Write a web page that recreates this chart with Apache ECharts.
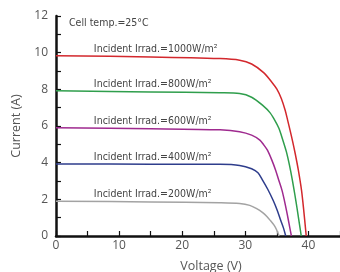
<!DOCTYPE html>
<html>
<head>
<meta charset="utf-8">
<script src="https://cdn.jsdelivr.net/npm/echarts@6/dist/echarts.min.js"></script>
<style>
  html, body { margin: 0; padding: 0; background: #fff; }
  #main { width: 340px; height: 272px; }
</style>
</head>
<body>
<div id="main"></div>
<script>
// I-V curves at different irradiance
const irradiance = ['1000', '800', '600', '400', '200']
const colors = ['#d3282d', '#2f9e4c', '#9f2a8f', '#2e3d8c', '#a3a3a3']

const volt1000 = [0, 15, 26, 29.1, 31.0, 32.9, 34.2, 35.0, 35.7, 36.3, 36.7, 37.1, 37.5, 37.9, 38.4, 38.9, 39.25, 39.65]
const curr1000 = [9.83, 9.77, 9.68, 9.59, 9.38, 8.91, 8.39, 8.01, 7.5, 6.87, 6.32, 5.75, 5.15, 4.5, 3.59, 2.5, 1.41, 0]

const volt800 = [0, 15, 26, 29.1, 31.0, 32.8, 33.9, 34.65, 35.3, 35.9, 36.5, 37.0, 37.45, 37.85, 38.2, 38.55, 38.86]
const curr800 = [7.92, 7.86, 7.81, 7.77, 7.57, 7.11, 6.73, 6.32, 5.89, 5.28, 4.6, 3.85, 3.05, 2.25, 1.5, 0.7, 0]

const volt600 = [0, 15, 26, 29.1, 31.0, 32.3, 32.9, 33.5, 34.2, 34.8, 35.3, 35.8, 36.2, 36.5, 36.8, 37.05, 37.3]
const curr600 = [5.9, 5.85, 5.79, 5.69, 5.5, 5.23, 4.98, 4.68, 4.14, 3.59, 3.04, 2.5, 1.92, 1.43, 0.9, 0.44, 0]

const volt400 = [0, 15, 26, 29.1, 31.0, 32.0, 32.75, 33.55, 34.4, 35.05, 35.6, 36.05, 36.4]
const curr400 = [3.93, 3.92, 3.91, 3.85, 3.67, 3.45, 3.04, 2.55, 1.95, 1.41, 0.86, 0.43, 0]

const volt200 = [0, 15, 26, 29.1, 30.7, 31.8, 32.75, 33.45, 34.0, 34.55, 34.95, 35.35]
const curr200 = [1.9, 1.86, 1.81, 1.77, 1.67, 1.49, 1.27, 1.05, 0.83, 0.59, 0.34, 0]

const volts = [volt1000, volt800, volt600, volt400, volt200]
const currs = [curr1000, curr800, curr600, curr400, curr200]

const narrow = '"Liberation Sans Narrow", "DejaVu Sans Condensed", sans-serif'
const numFont = '"Open Sans", "Noto Sans", sans-serif'

let chart = echarts.init(document.getElementById('main'), null, { renderer: 'canvas' })

let series = irradiance.map((irr, i) => ({
  name: irr,
  type: 'line',
  smooth: 0.3,
  showSymbol: false,
  symbol: 'none',
  lineStyle: { color: colors[i], width: 1.5 },
  data: volts[i].map((v, k) => [v, currs[i][k]]),
  markPoint: {
    symbol: 'circle',
    symbolSize: 0,
    silent: true,
    label: {
      show: true,
      position: [0, 0],
      align: 'left',
      verticalAlign: 'middle',
      color: '#444',
      fontSize: 10.5,
      fontFamily: narrow,
      formatter: 'Incident Irrad.=' + irr + 'W/m²'
    },
    // label sits a little above the short-circuit current
    data: [{ coord: [6, currs[i][0] + 0.37] }]
  }
}))

let option = {
  animation: false,
  grid: { left: 56, right: 0, top: 16, bottom: 36, outerBoundsMode: 'none', containLabel: false },
  graphic: [{
    type: 'text',
    left: 69,
    top: 18,
    style: { text: 'Cell temp.=25°C', fill: '#444', font: '10.5px ' + narrow }
  }],
  xAxis: {
    type: 'value',
    min: 0,
    max: 45,
    interval: 5,
    name: 'Voltage (V)',
    nameLocation: 'middle',
    nameGap: 24,
    nameTextStyle: { color: '#555', fontSize: 12.5, fontFamily: numFont, padding: [0, 0, 0, 26] },
    axisLine: { lineStyle: { color: '#111', width: 2.5 } },
    axisTick: { inside: true, length: 5, lineStyle: { color: '#111', width: 1.2 } },
    axisLabel: {
      color: '#555',
      fontSize: 12,
      fontFamily: numFont,
      margin: 4,
      formatter: v => (v % 10 === 0 ? v : '')
    },
    splitLine: { show: false }
  },
  yAxis: {
    type: 'value',
    min: 0,
    max: 12,
    interval: 1,
    name: 'Current (A)',
    nameLocation: 'middle',
    nameGap: 19,
    nameTextStyle: { color: '#555', fontSize: 12.5, fontFamily: numFont },
    axisLine: { lineStyle: { color: '#111', width: 2.5 } },
    axisTick: { inside: true, length: 5, lineStyle: { color: '#111', width: 1.2 } },
    axisLabel: {
      color: '#555',
      fontSize: 12,
      fontFamily: numFont,
      margin: 8,
      formatter: v => (v % 2 === 0 ? v : '')
    },
    splitLine: { show: false }
  },
  series: series
}

chart.setOption(option)
</script>
</body>
</html>
